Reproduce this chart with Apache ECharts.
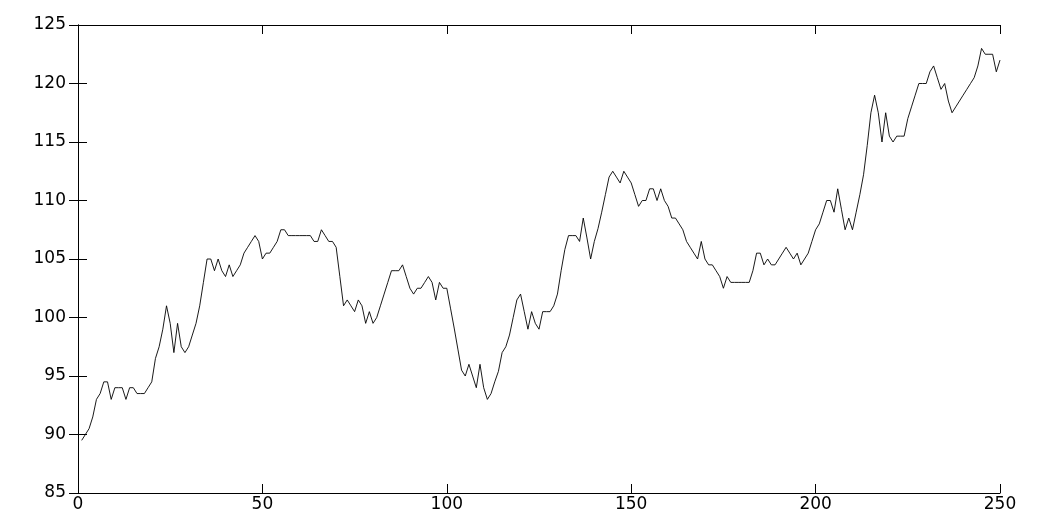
<!DOCTYPE html>
<html>
<head>
<meta charset="utf-8">
<script src="https://cdn.jsdelivr.net/npm/echarts@6/dist/echarts.min.js"></script>
<style>
  html, body { margin: 0; padding: 0; background: #fff; }
  #chart { width: 1038px; height: 519px; }
</style>
</head>
<body>
<div id="chart"></div>
<script>
// x positions start at 1 and step by 1 (one value per step)
const xStart = 1;
const values = [
  89.5, 90, 90.5, 91.5, 93, 93.5, 94.5, 94.5, 93, 94,
  94, 94, 93, 94, 94, 93.5, 93.5, 93.5, 94, 94.5,
  96.5, 97.5, 99, 101, 99.5, 97, 99.5, 97.5, 97, 97.5,
  98.5, 99.5, 101, 103, 105, 105, 104, 105, 104, 103.5,
  104.5, 103.5, 104, 104.5, 105.5, 106, 106.5, 107, 106.5, 105,
  105.5, 105.5, 106, 106.5, 107.5, 107.5, 107, 107, 107, 107,
  107, 107, 107, 106.5, 106.5, 107.5, 107, 106.5, 106.5, 106,
  103.5, 101, 101.5, 101, 100.5, 101.5, 101, 99.5, 100.5, 99.5,
  100, 101, 102, 103, 104, 104, 104, 104.5, 103.5, 102.5,
  102, 102.5, 102.5, 103, 103.5, 103, 101.5, 103, 102.5, 102.5,
  100.8, 99.1, 97.3, 95.5, 95, 96, 95, 94, 96, 94,
  93, 93.5, 94.5, 95.4, 97, 97.5, 98.5, 100, 101.5, 102,
  100.5, 99, 100.5, 99.5, 99, 100.5, 100.5, 100.5, 101, 102,
  104, 105.8, 107, 107, 107, 106.5, 108.5, 106.8, 105, 106.5,
  107.6, 109, 110.5, 112, 112.5, 112, 111.5, 112.5, 112, 111.5,
  110.5, 109.5, 110, 110, 111, 111, 110, 111, 110, 109.5,
  108.5, 108.5, 108, 107.5, 106.5, 106, 105.5, 105, 106.5, 105,
  104.5, 104.5, 104, 103.5, 102.5, 103.5, 103, 103, 103, 103,
  103, 103, 104, 105.5, 105.5, 104.5, 105, 104.5, 104.5, 105,
  105.5, 106, 105.5, 105, 105.5, 104.5, 105, 105.5, 106.5, 107.5,
  108, 109, 110, 110, 109, 111, 109.25, 107.5, 108.5, 107.5,
  109, 110.5, 112.2, 114.7, 117.5, 119, 117.5, 115, 117.5, 115.5,
  115, 115.5, 115.5, 115.5, 117, 118, 119, 120, 120, 120,
  121, 121.5, 120.5, 119.5, 120, 118.5, 117.5, 118, 118.5, 119,
  119.5, 120, 120.5, 121.5, 123, 122.5, 122.5, 122.5, 121, 122
];
const xMin = 0, xMax = 250, xStep = 50;
const yMin = 85, yMax = 125, yStep = 5;

const seriesData = values.map((v, i) => [xStart + i, v]);

const labelFont = { color: '#000', fontFamily: 'DejaVu Sans', fontSize: 17 };
const axisLineStyle = { show: true, lineStyle: { color: '#000', width: 1 } };
const tickStyle = { show: true, inside: true, length: 9, lineStyle: { color: '#000', width: 1 } };

const chart = echarts.init(document.getElementById('chart'), null, { renderer: 'canvas' });
chart.setOption({
  animation: false,
  backgroundColor: '#fff',
  grid: { left: 78, right: 38, top: 25, bottom: 26, containLabel: false },
  xAxis: [
    { type: 'value', min: xMin, max: xMax, interval: xStep, position: 'bottom',
      axisLine: axisLineStyle, axisTick: tickStyle, splitLine: { show: false },
      axisLabel: Object.assign({ margin: 3 }, labelFont) },
    { type: 'value', min: xMin, max: xMax, interval: xStep, position: 'top',
      axisLine: axisLineStyle, axisTick: tickStyle, splitLine: { show: false },
      axisLabel: { show: false } }
  ],
  yAxis: [
    { type: 'value', min: yMin, max: yMax, interval: yStep, position: 'left',
      axisLine: axisLineStyle, axisTick: tickStyle, splitLine: { show: false },
      axisLabel: Object.assign({ margin: 12 }, labelFont) },
    { type: 'value', min: yMin, max: yMax, interval: yStep, position: 'right',
      axisLine: axisLineStyle, axisTick: tickStyle, splitLine: { show: false },
      axisLabel: { show: false } }
  ],
  series: [{
    type: 'line',
    xAxisIndex: 0,
    yAxisIndex: 0,
    data: seriesData,
    showSymbol: false,
    symbol: 'none',
    lineStyle: { color: '#000', width: 0.9 }
  }]
});
</script>
</body>
</html>
